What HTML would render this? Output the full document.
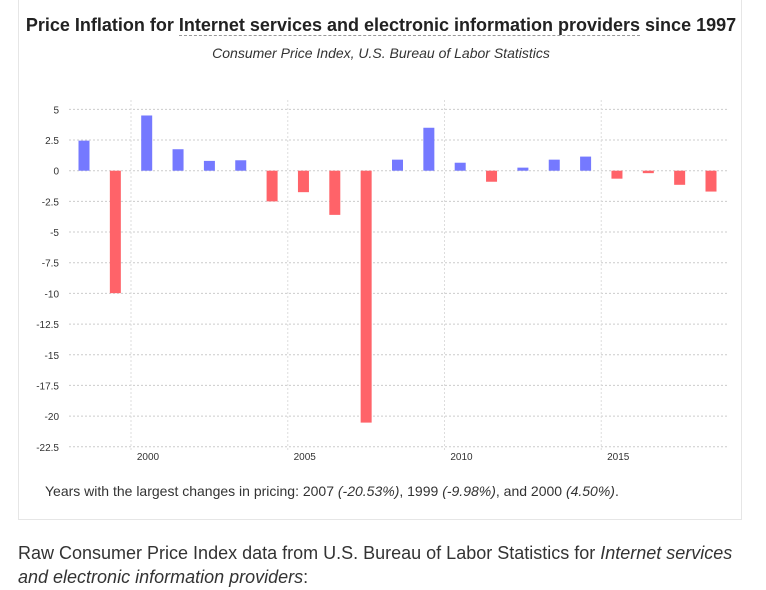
<!DOCTYPE html>
<html><head><meta charset="utf-8"><style>
body{margin:0;width:766px;height:590px;background:#fff;font-family:"Liberation Sans",sans-serif;overflow:hidden;position:relative;color:#222}
.card{position:absolute;left:18px;top:-2px;width:724px;height:522px;border:1px solid #e6e6e6;box-sizing:border-box}
.t{position:absolute;left:0;width:762px;text-align:center}
</style></head><body>
<div class="card"></div>
<div class="t" style="top:15px;font-size:18px;font-weight:bold;color:#222;white-space:nowrap">Price Inflation for <span style="border-bottom:1px dashed #999">Internet services and electronic information providers</span> since 1997</div>
<div class="t" style="top:45px;font-size:14px;font-style:italic;color:#333">Consumer Price Index, U.S. Bureau of Labor Statistics</div>
<svg id="chart" width="766" height="470" style="position:absolute;left:0;top:0"></svg>
<div style="position:absolute;left:45px;top:483px;font-size:14px;color:#333;white-space:nowrap">Years with the largest changes in pricing: 2007 <i>(-20.53%)</i>, 1999 <i>(-9.98%)</i>, and 2000 <i>(4.50%)</i>.</div>
<div style="position:absolute;left:18px;top:541px;width:730px;font-size:18px;line-height:24px;color:#333">Raw Consumer Price Index data from U.S. Bureau of Labor Statistics for <i>Internet services and electronic information providers</i>:</div>
<script>
const years=[1998,1999,2000,2001,2002,2003,2004,2005,2006,2007,2008,2009,2010,2011,2012,2013,2014,2015,2016,2017,2018];
const values=[2.45,-9.98,4.5,1.75,0.8,0.85,-2.5,-1.75,-3.6,-20.53,0.9,3.5,0.65,-0.9,0.25,0.9,1.15,-0.65,-0.2,-1.15,-1.7];
const yTicks=[5,2.5,0,-2.5,-5,-7.5,-10,-12.5,-15,-17.5,-20,-22.5];
const xTicks=[2000,2005,2010,2015];
const NS="http://www.w3.org/2000/svg",svg=document.getElementById('chart');
const y=v=>170.7-v*12.27;
const x=yr=>131+(yr-2000)*31.35;
function mk(t,a){const e=document.createElementNS(NS,t);for(const k in a)e.setAttribute(k,a[k]);svg.appendChild(e);return e;}
yTicks.forEach(v=>{
 const l=mk('line',{x1:69,x2:727,y1:y(v),y2:y(v),stroke:'#ccc','stroke-dasharray':'2,2'});
 
 
 const t=mk('text',{x:59,y:y(v)+4,'text-anchor':'end','font-size':10,fill:'#333'});t.textContent=v;
 
 
});
xTicks.forEach(yr=>{
 const l=mk('line',{x1:x(yr),x2:x(yr),y1:100,y2:450,stroke:'#ddd','stroke-dasharray':'2,2'});
 
 
 const t=mk('text',{x:x(yr)+17,y:460,'text-anchor':'middle','font-size':10,fill:'#333'});t.textContent=yr;
 
 
});
years.forEach((yr,i)=>{
 const v=values[i],cx=x(yr)+15.7;
 const r=mk('rect',{x:cx-5.5,width:11,y:Math.min(y(v),y(0)),height:Math.abs(y(v)-y(0)),fill:v>=0?'#7579ff':'#ff6369'});
 
 
});
</script>
</body></html>
